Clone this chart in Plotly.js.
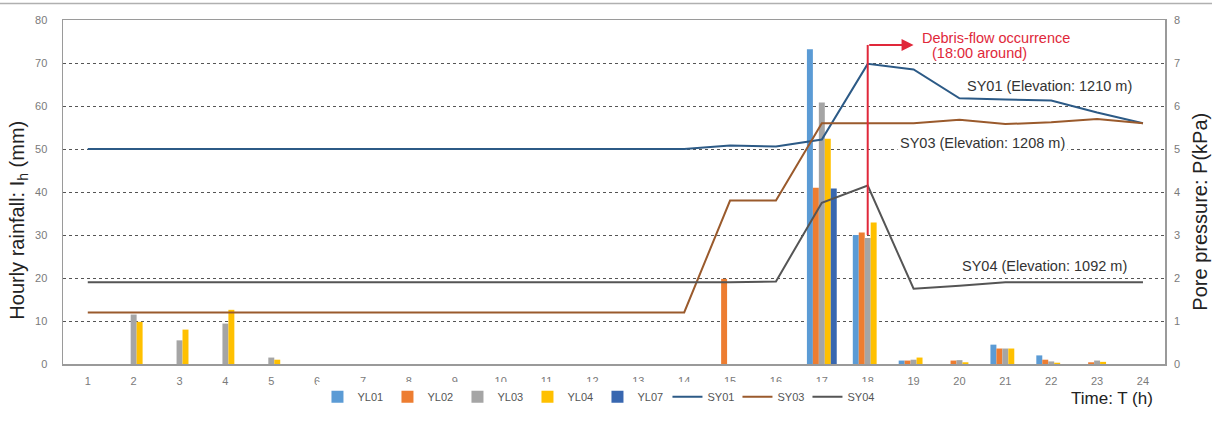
<!DOCTYPE html>
<html>
<head>
<meta charset="utf-8">
<script src="https://cdn.plot.ly/plotly-3.0.1.min.js"></script>
<style>
  html, body { margin: 0; padding: 0; background: #fff; }
  #chart { width: 1212px; height: 423px; }
</style>
</head>
<body>
<div id="chart"></div>
<script>
// Hours of the rainfall event
const hours = [1,2,3,4,5,6,7,8,9,10,11,12,13,14,15,16,17,18,19,20,21,22,23,24];

// Hourly rainfall (mm) at each rain gauge
const YL01 = [0,0,0,0,0,0,0,0,0,0,0,0,0,0,0,0,73.2,30.0,0.8,0,4.5,2.0,0,0];
const YL02 = [0,0,0,0,0,0,0,0,0,0,0,0,0,0,19.8,0,41.0,30.6,0.8,0.8,3.6,1.0,0.4,0];
const YL03 = [0,11.5,5.5,9.4,1.5,0,0,0,0,0,0,0,0,0,0,0,60.8,29.3,1.0,0.9,3.6,0.6,0.8,0];
const YL04 = [0,9.8,8.0,12.6,1.0,0,0,0,0,0,0,0,0,0,0,0,52.4,32.9,1.5,0.4,3.6,0.3,0.5,0];
const YL07 = [0,0,0,0,0,0,0,0,0,0,0,0,0,0,0,0,40.8,0,0,0,0,0,0,0];

// Pore pressure (kPa) at each monitoring station
const SY01 = [5,5,5,5,5,5,5,5,5,5,5,5,5,5,5.08,5.06,5.22,6.98,6.85,6.18,6.15,6.13,5.85,5.6];
const SY03 = [1.2,1.2,1.2,1.2,1.2,1.2,1.2,1.2,1.2,1.2,1.2,1.2,1.2,1.2,3.8,3.8,5.6,5.6,5.6,5.68,5.58,5.62,5.7,5.6];
const SY04 = [1.9,1.9,1.9,1.9,1.9,1.9,1.9,1.9,1.9,1.9,1.9,1.9,1.9,1.9,1.9,1.92,3.75,4.15,1.75,1.82,1.9,1.9,1.9,1.9];

const rainSeries = [
  {name: 'YL01', y: YL01, color: '#5B9BD5'},
  {name: 'YL02', y: YL02, color: '#ED7D31'},
  {name: 'YL03', y: YL03, color: '#A5A5A5'},
  {name: 'YL04', y: YL04, color: '#FFC000'},
  {name: 'YL07', y: YL07, color: '#3867B0'}
];
const poreSeries = [
  {name: 'SY01', y: SY01, color: '#2C5A86'},
  {name: 'SY03', y: SY03, color: '#9A5A2C'},
  {name: 'SY04', y: SY04, color: '#555555'}
];

const traces = [];
rainSeries.forEach(s => traces.push({
  type: 'bar', name: s.name, x: hours, y: s.y, yaxis: 'y',
  marker: {color: s.color, line: {width: 0}}
}));
poreSeries.forEach(s => traces.push({
  type: 'scatter', mode: 'lines', name: s.name, x: hours, y: s.y, yaxis: 'y2',
  line: {color: s.color, width: 2}
}));

const FAMILY = 'Arial, Liberation Sans, sans-serif';
const tickFont = {family: FAMILY, size: 11, color: '#7a7a7a'};
const titleFont = {family: FAMILY, size: 20, color: '#222'};
const labelFont = {family: FAMILY, size: 14.5, color: '#333'};
const redFont = {family: FAMILY, size: 14.5, color: '#E0283A'};

const layout = {
  width: 1212, height: 423,
  margin: {l: 63, r: 47, t: 20, b: 51},
  paper_bgcolor: '#fff', plot_bgcolor: '#fff',
  barmode: 'group', bargap: 0.35, bargroupgap: 0,
  showlegend: true,
  legend: {
    orientation: 'h', x: 0.485, xanchor: 'center', y: -0.095, yanchor: 'middle',
    font: {family: FAMILY, size: 11, color: '#555'},
    itemwidth: 30, entrywidth: 25, entrywidthmode: 'pixels',
    tracegroupgap: 0, traceorder: 'normal'
  },
  xaxis: {
    range: [0.46, 24.48], tickvals: hours, ticktext: hours.map(String),
    tickfont: tickFont, showgrid: false, zeroline: false,
    showline: true, linecolor: '#9a9a9a', linewidth: 1.5, mirror: true,
    ticks: '', ticklabelstandoff: 6
  },
  yaxis: {
    range: [0, 80], dtick: 10, tickfont: tickFont,
    showgrid: true, gridcolor: '#555', griddash: 'dot', gridwidth: 1,
    zeroline: false, showline: true, linecolor: '#9a9a9a', linewidth: 1.5, mirror: true,
    ticks: '', ticklabelstandoff: 12
  },
  yaxis2: {
    range: [0, 8], dtick: 1, overlaying: 'y', side: 'right', tickfont: tickFont,
    showgrid: false, zeroline: false, ticks: '', ticklabelstandoff: 8
  },
  shapes: [
    // occurrence marker at 18:00
    {type: 'line', xref: 'x', yref: 'y2', x0: 18, x1: 18, y0: 3.0, y1: 7.42,
     line: {color: '#E0283A', width: 2}},
    // thin rule across the top of the figure
    {type: 'line', xref: 'paper', yref: 'paper', x0: -0.06, x1: 1.05, y0: 1.048, y1: 1.048,
     line: {color: '#b0b0b0', width: 1.5}}
  ],
  annotations: [
    {xref: 'x', yref: 'y2', axref: 'x', ayref: 'y2', x: 19, y: 7.42, ax: 18, ay: 7.42,
     text: '', showarrow: true, arrowhead: 2, arrowsize: 1.2, arrowwidth: 2, arrowcolor: '#E0283A'},
    {xref: 'x', yref: 'y2', x: 20.8, y: 7.57, text: 'Debris-flow occurrence', showarrow: false, font: redFont},
    {xref: 'x', yref: 'y2', x: 20.43, y: 7.23, text: '(18:00 around)', showarrow: false, font: redFont},
    {xref: 'x', yref: 'y2', x: 21.96, y: 6.46, text: 'SY01 (Elevation: 1210 m)', showarrow: false, font: labelFont},
    {xref: 'x', yref: 'y2', x: 20.5, y: 5.15, text: 'SY03 (Elevation: 1208 m)', showarrow: false, font: labelFont,
     bgcolor: '#fff', borderpad: 2},
    {xref: 'x', yref: 'y2', x: 21.85, y: 2.27, text: 'SY04 (Elevation: 1092 m)', showarrow: false, font: labelFont,
     bgcolor: '#fff', borderpad: 3},
    // axis titles
    {xref: 'paper', yref: 'paper', x: -0.0404, y: 0.418, xanchor: 'center', yanchor: 'middle',
     textangle: -90, showarrow: false,
     text: 'Hourly rainfall: I<sub>h</sub> (mm)', font: titleFont},
    {xref: 'paper', yref: 'paper', x: 1.0318, y: 0.443, xanchor: 'center', yanchor: 'middle',
     textangle: -90, showarrow: false,
     text: 'Pore pressure: P(kPa)', font: titleFont},
    {xref: 'paper', yref: 'paper', x: 0.952, y: -0.0995, xanchor: 'center', yanchor: 'middle',
     text: 'Time: T (h)', showarrow: false,
     font: {family: FAMILY, size: 17, color: '#222'}}
  ]
};

Plotly.newPlot('chart', traces, layout, {displayModeBar: false, staticPlot: true});
</script>
</body>
</html>
